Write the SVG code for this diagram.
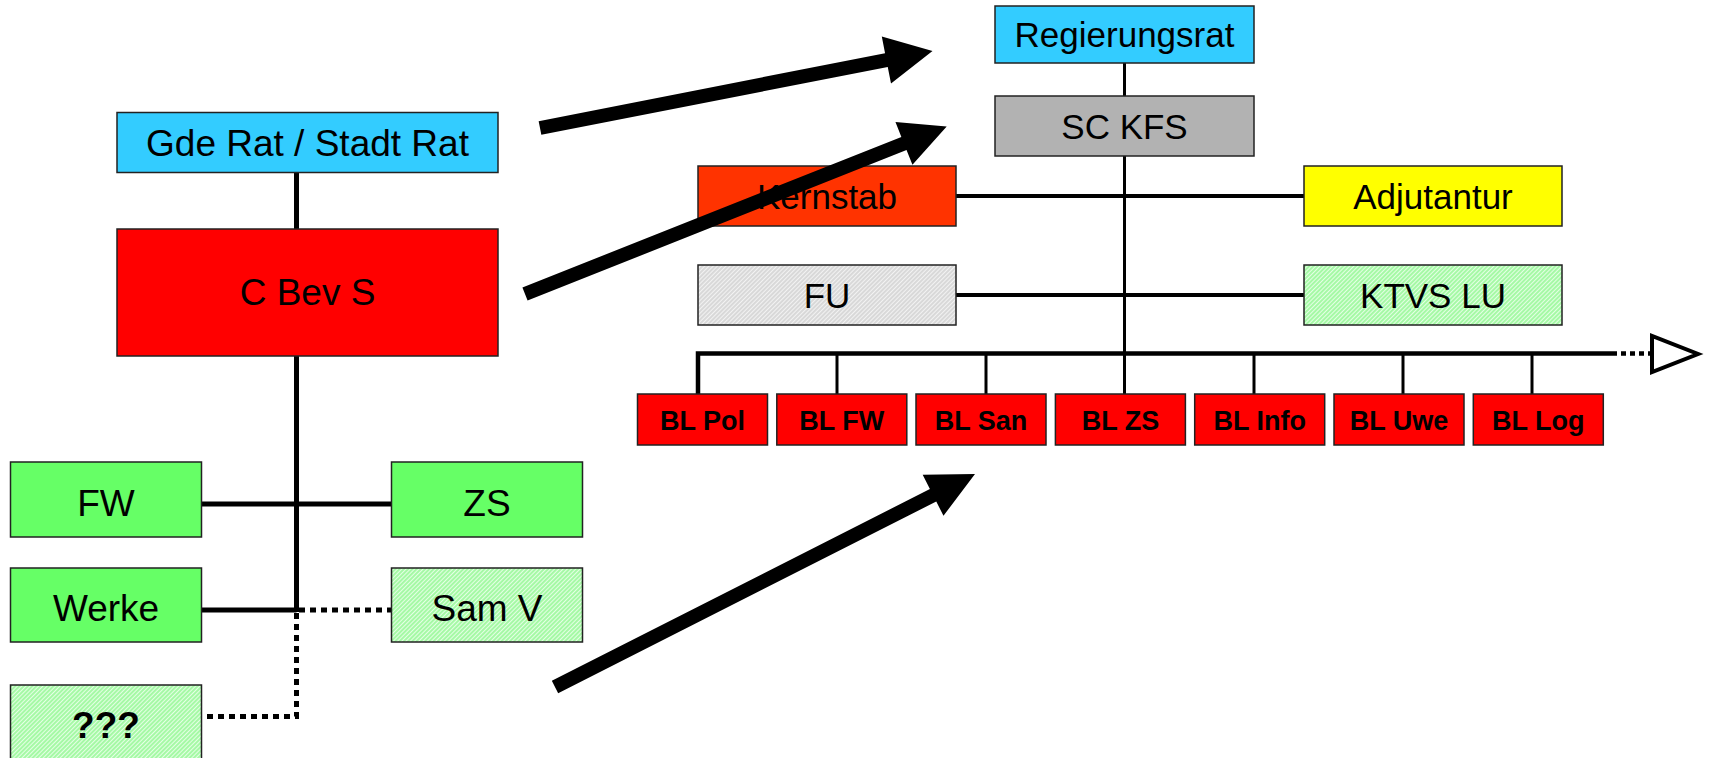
<svg xmlns="http://www.w3.org/2000/svg" width="1710" height="758" viewBox="0 0 1710 758">
  <defs>
    <pattern id="hatchG" width="3" height="3" patternUnits="userSpaceOnUse" patternTransform="rotate(45)">
      <rect width="3" height="3" fill="#e4ffe4"/>
      <line x1="1" y1="0" x2="1" y2="3" stroke="#7cf57c" stroke-width="1.2"/>
    </pattern>
    <pattern id="hatchGray" width="3" height="3" patternUnits="userSpaceOnUse" patternTransform="rotate(45)">
      <rect width="3" height="3" fill="#f2f2f2"/>
      <line x1="1" y1="0" x2="1" y2="3" stroke="#c4c4c4" stroke-width="1.1"/>
    </pattern>
  </defs>
  <style>
    .box { stroke: #222; stroke-width: 1.5; }
    .t { font-family: "Liberation Sans", Arial, sans-serif; text-anchor: middle; fill: #000; }
    .l37 { font-size: 37px; }
    .r35 { font-size: 35px; }
    .bl { font-size: 27px; font-weight: bold; }
    .b37 { font-size: 37px; font-weight: bold; }
    .cyan { fill: #33ccff; }
    .red { fill: #ff0000; }
    .orange { fill: #ff3300; }
    .yellow { fill: #ffff00; }
    .green { fill: #66ff66; }
    .gray { fill: #b2b2b2; }
    .hg { fill: url(#hatchG); }
    .hgray { fill: url(#hatchGray); }
    .ln { stroke: #000; fill: none; }
    .dot { stroke: #000; fill: none; stroke-dasharray: 6 5; }
    .arrow { fill: #000; }
  </style>

  <!-- connectors -->
  <g id="connectors">
    <!-- left tree -->
    <line class="ln" x1="296.5" y1="172.5" x2="296.5" y2="229" stroke-width="5"/>
    <line class="ln" x1="296.5" y1="356" x2="296.5" y2="612" stroke-width="5"/>
    <line class="ln" x1="201.5" y1="504" x2="391.5" y2="504" stroke-width="5"/>
    <line class="ln" x1="201.5" y1="610" x2="296.5" y2="610" stroke-width="5"/>
    <line class="dot" x1="299" y1="610" x2="391.5" y2="610" stroke-width="5"/>
    <polyline class="dot" points="296.5,613 296.5,716.5 201.5,716.5" stroke-width="5"/>
    <!-- right tree -->
    <line class="ln" x1="1124.5" y1="63" x2="1124.5" y2="96" stroke-width="3"/>
    <line class="ln" x1="1124.5" y1="156" x2="1124.5" y2="394" stroke-width="3"/>
    <line class="ln" x1="956" y1="196" x2="1304" y2="196" stroke-width="4"/>
    <line class="ln" x1="956" y1="295" x2="1304" y2="295" stroke-width="4"/>
    <path class="ln" d="M698,394 V353.5 H1612" stroke-width="4.5"/>
    <line class="ln" x1="1612" y1="353.5" x2="1650" y2="353.5" stroke-width="4.5" stroke-dasharray="5 4"/>
    <polygon points="1652,336 1652,372 1698,354" fill="#fff" stroke="#000" stroke-width="4"/>
    <line class="ln" x1="837" y1="353.5" x2="837" y2="394" stroke-width="3"/>
    <line class="ln" x1="986" y1="353.5" x2="986" y2="394" stroke-width="3"/>
    <line class="ln" x1="1254" y1="353.5" x2="1254" y2="394" stroke-width="3"/>
    <line class="ln" x1="1403" y1="353.5" x2="1403" y2="394" stroke-width="3"/>
    <line class="ln" x1="1532" y1="353.5" x2="1532" y2="394" stroke-width="3"/>
  </g>

  <!-- left nodes -->
  <g id="gderat"><rect class="box cyan" x="117" y="112.5" width="381" height="60"/><text class="t l37" x="307.5" y="155.5">Gde Rat / Stadt Rat</text></g>
  <g id="cbevs"><rect class="box red" x="117" y="229" width="381" height="127"/><text class="t l37" x="307.5" y="305">C Bev S</text></g>
  <g id="fw"><rect class="box green" x="10.5" y="462" width="191" height="75"/><text class="t l37" x="106" y="516">FW</text></g>
  <g id="zs"><rect class="box green" x="391.5" y="462" width="191" height="75"/><text class="t l37" x="487" y="516">ZS</text></g>
  <g id="werke"><rect class="box green" x="10.5" y="568" width="191" height="74"/><text class="t l37" x="106" y="621">Werke</text></g>
  <g id="samv"><rect class="box hg" x="391.5" y="568" width="191" height="74"/><text class="t l37" x="487" y="621">Sam V</text></g>
  <g id="unknown"><rect class="box hg" x="10.5" y="685" width="191" height="90"/><text class="t b37" x="106" y="738">???</text></g>

  <!-- right nodes -->
  <g id="regierungsrat"><rect class="box cyan" x="995" y="6" width="259" height="57"/><text class="t r35" x="1124.5" y="47">Regierungsrat</text></g>
  <g id="sckfs"><rect class="box gray" x="995" y="96" width="259" height="60"/><text class="t r35" x="1124.5" y="138.5">SC KFS</text></g>
  <g id="kernstab"><rect class="box orange" x="698" y="166" width="258" height="60"/><text class="t r35" x="827" y="208.5">Kernstab</text></g>
  <g id="adjutantur"><rect class="box yellow" x="1304" y="166" width="258" height="60"/><text class="t r35" x="1433" y="208.5">Adjutantur</text></g>
  <g id="fu"><rect class="box hgray" x="698" y="265" width="258" height="60"/><text class="t r35" x="827" y="307.5">FU</text></g>
  <g id="ktvslu"><rect class="box hg" x="1304" y="265" width="258" height="60"/><text class="t r35" x="1433" y="307.5">KTVS LU</text></g>

  <g id="blpol"><rect class="box red" x="637.5" y="394" width="130" height="51"/><text class="t bl" x="702.5" y="429.5">BL Pol</text></g>
  <g id="blfw"><rect class="box red" x="776.8" y="394" width="130" height="51"/><text class="t bl" x="841.8" y="429.5">BL FW</text></g>
  <g id="blsan"><rect class="box red" x="916" y="394" width="130" height="51"/><text class="t bl" x="981" y="429.5">BL San</text></g>
  <g id="blzs"><rect class="box red" x="1055.4" y="394" width="130" height="51"/><text class="t bl" x="1120.4" y="429.5">BL ZS</text></g>
  <g id="blinfo"><rect class="box red" x="1194.7" y="394" width="130" height="51"/><text class="t bl" x="1259.7" y="429.5">BL Info</text></g>
  <g id="bluwe"><rect class="box red" x="1334" y="394" width="130" height="51"/><text class="t bl" x="1399" y="429.5">BL Uwe</text></g>
  <g id="bllog"><rect class="box red" x="1473.3" y="394" width="130" height="51"/><text class="t bl" x="1538.3" y="429.5">BL Log</text></g>

  <!-- big arrows -->
  <g id="arrows">
    <polygon class="arrow" points="541.35,134.87 887.75,66.92 891,83.6 932.5,51 881.8,36.5 885.05,53.18 538.65,121.13"/>
    <polygon class="arrow" points="527.58,300.51 906.53,149.99 912.44,164.86 946.7,126.5 895.46,122.1 901.37,136.97 522.42,287.49"/>
    <polygon class="arrow" points="558.17,693.24 936.25,501.5 943.48,515.77 975,474 922.68,474.75 929.91,489.02 551.83,680.76"/>
  </g>
</svg>
